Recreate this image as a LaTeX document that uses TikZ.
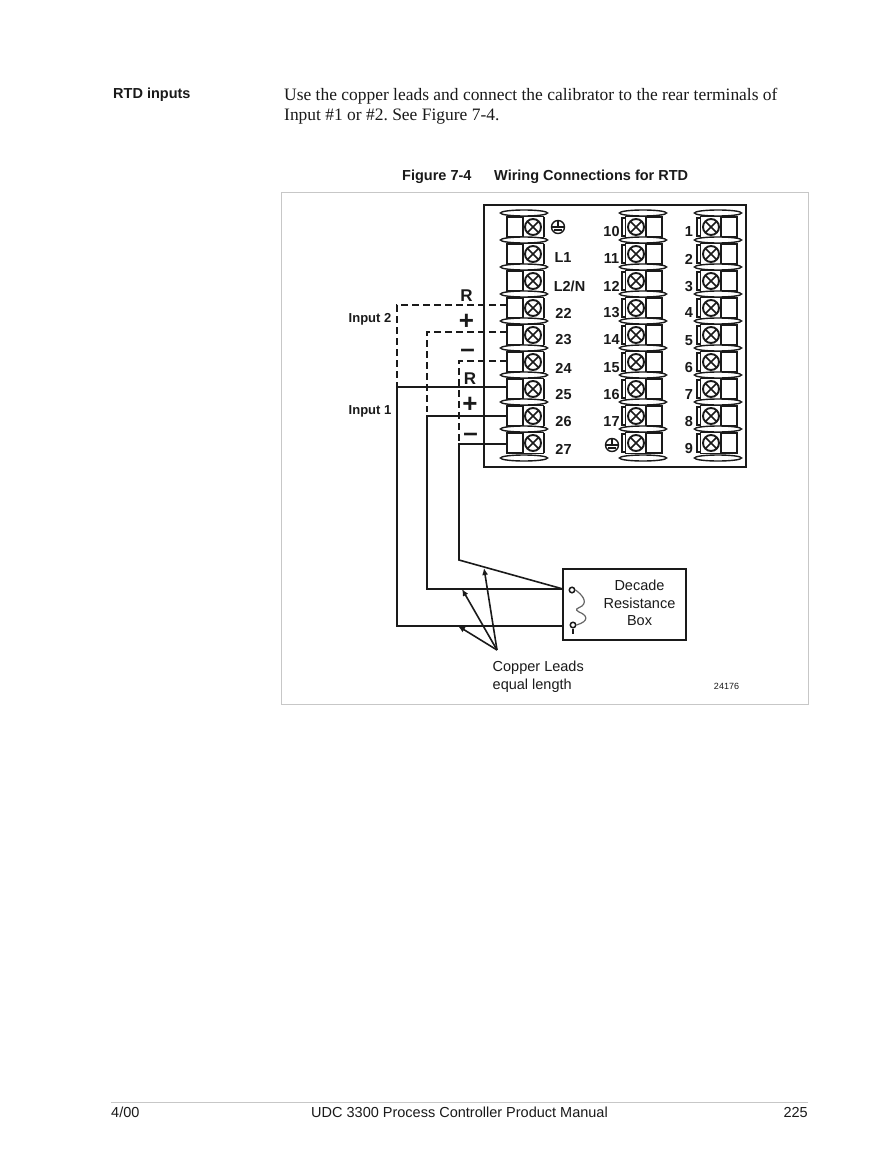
\documentclass[tikz,border=0pt]{standalone}
\usepackage{fontspec}
\setmainfont{Liberation Sans}
\newfontfamily\serifbody{Liberation Serif}
\usetikzlibrary{arrows.meta,shapes.geometric}
\definecolor{ink}{HTML}{1A1A1A}
\tikzset{
  x=1pt,y=-1pt,
  wire/.style={draw=ink,line width=1.6pt},
  dashwire/.style={draw=ink,line width=1.6pt,dash pattern=on 7pt off 4pt},
  pointer/.style={draw=ink,line width=1.6pt,-{Latex[length=7pt,width=6pt]}},
  termsq/.style={draw=ink,line width=1.1pt,fill=white,minimum width=16pt,minimum height=20pt,inner sep=0pt,outer sep=0pt},
  termblock/.style={draw=ink,line width=1.1pt,fill=white,minimum width=21pt,minimum height=21pt,inner sep=0pt,outer sep=0pt},
  screw/.style={circle,draw=ink,line width=1.9pt,fill=white,minimum size=16pt,inner sep=0pt,outer sep=0pt},
  washer/.style={ellipse,draw=ink,line width=1.4pt,fill=white,minimum width=47pt,minimum height=6pt,inner sep=0pt,outer sep=0pt},
  tlabel/.style={font=\bfseries\fontsize{14.5}{16}\selectfont,text=ink,inner sep=0pt},
  slabel/.style={font=\bfseries\fontsize{13}{15}\selectfont,text=ink,inner sep=0pt},
  signlabel/.style={font=\bfseries\fontsize{17}{19}\selectfont,text=ink,inner sep=0pt},
  signbig/.style={font=\bfseries\fontsize{26}{28}\selectfont,text=ink,inner sep=0pt},
  boxlabel/.style={font=\fontsize{14.5}{17.5}\selectfont,text=ink,inner sep=0pt,align=center},
  body/.style={font=\serifbody\fontsize{17.45}{19.6}\selectfont\frenchspacing,text=ink,inner sep=0pt,anchor=north west,align=left},
  foot/.style={font=\fontsize{14.5}{17}\selectfont,text=ink,inner sep=0pt},
  headtext/.style={font=\bfseries\fontsize{14.5}{17}\selectfont,text=ink,inner sep=0pt,anchor=west},
}
\newcommand{\screwcross}[1]{%
  \draw[ink,line width=1.7pt] (#1.45) -- (#1.225) (#1.135) -- (#1.315);}
\newcommand{\leftterm}[3]{% name, row y, dx
  \node[termblock] at (533+#3,#2) {};
  \node[termsq] (t#1) at (515+#3,#2) {};
  \node[screw] (s#1) at (533+#3,#2) {};
  \screwcross{s#1}
  \draw[ink,line width=1.3pt] (544+#3,#2-10) -- (544+#3,#2+10);
}
\newcommand{\rightterm}[3]{% name, row y, screw x
  \node[termblock] at (#3,#2) {};
  \node[termsq] (t#1) at (#3+18,#2) {};
  \node[screw] (s#1) at (#3,#2) {};
  \screwcross{s#1}
  \draw[ink,line width=1.2pt] (#3-14,#2-9) rectangle (#3-10.5,#2+9);
}
\newcommand{\groundmark}[2]{%
  \draw[ink,line width=1.4pt] (#1,#2) circle (6.5pt);
  \draw[ink,line width=1.6pt] (#1-6.5,#2) -- (#1+6.5,#2) (#1,#2-6) -- (#1,#2) (#1-4,#2+3) -- (#1+4,#2+3);}
\begin{document}
\begin{tikzpicture}
\useasboundingbox (0,0) rectangle (892,1155);
\fill[white] (0,0) rectangle (892,1155);

\node[headtext] (head) at (113,94.5) {RTD inputs};
\node[body] (para) at (284,88.5) {Use the copper leads and connect the calibrator to the rear terminals of\\Input \#1 or \#2. See Figure 7-4.};
\node[headtext] (figcap) at (402,176.5) {Figure 7-4};
\node[headtext] (figtitle) at (494,176.5) {Wiring Connections for RTD};

\draw[draw=black!22,line width=1pt] (281,192.5) rectangle (808.5,704);
\draw[ink,line width=1.8pt] (484,205) rectangle (746,467);

\coordinate (c1) at (397,305);
\coordinate (c1b) at (397,387);
\coordinate (c2) at (427,332);
\coordinate (c2b) at (427,412);
\coordinate (c3) at (459,361);
\coordinate (c3b) at (459,444);

% terminals
\foreach \n/\y in {A/227,B/254,C/281,22/308,23/335,24/362,25/389,26/416,27/443}{\leftterm{\n}{\y}{0}}
\foreach \n/\y in {10/227,11/254,12/281,13/308,14/335,15/362,16/389,17/416,G/443}{\rightterm{\n}{\y}{636}}
\foreach \n/\y in {1/227,2/254,3/281,4/308,5/335,6/362,7/389,8/416,9/443}{\rightterm{\n}{\y}{711}}
\foreach \cx/\px in {524/a,643/b,718/c}{
  \foreach \y in {213,240,267,294,321,348,375,402,429,458}{
    \node[washer] at (\cx,\y) {};
  }
}

% labels
\groundmark{558}{227}
\groundmark{612}{445}
\node[tlabel] (lL1) at (563,258) {L1};
\node[tlabel] (lL2) at (569.5,286) {L2/N};
\foreach \t/\y in {22/313,23/340,24/368,25/395,26/422,27/449}{\node[tlabel] (l\t) at (563.5,\y) {\t};}
\foreach \t/\y in {10/232,11/259,12/286,13/313,14/340,15/368,16/395,17/422}{\node[tlabel] (l\t) at (611.5,\y) {\t};}
\foreach \t/\y in {1/232,2/259,3/287,4/313,5/341,6/368,7/395,8/422,9/449}{\node[tlabel] (l\t) at (689,\y) {\t};}

\node[signlabel] (r2) at (466.5,295.5) {R};
\node[signbig] (p2) at (466.5,322) {+};
\node[signbig] (m2) at (467.5,353) {\textendash};
\node[signlabel] (r1) at (470,378.5) {R};
\node[signbig] (p1) at (470,405) {+};
\node[signbig] (m1) at (470.5,437) {\textendash};
\node[slabel,anchor=west] (in2) at (348.5,319) {Input 2};
\node[slabel,anchor=west] (in1) at (348.5,411) {Input 1};

% decade box
\node[draw=ink,line width=1.6pt,fill=white,minimum width=123pt,minimum height=71pt,inner sep=0pt,outer sep=0pt] (box) at (624.5,604.5) {};
\node[boxlabel] (boxt) at (639.5,603) {Decade\\Resistance\\Box};
\node[circle,draw=ink,line width=1.5pt,fill=white,minimum size=5.5pt,inner sep=0pt] (p1c) at (572,590) {};
\node[circle,draw=ink,line width=1.5pt,fill=white,minimum size=5.5pt,inner sep=0pt] (p2c) at (573,625) {};
\coordinate (tail) at (573,634);
\draw[ink,line width=1.4pt] (p2c.south) -- (tail);
\draw[black!60,line width=1.2pt] (p1c.east) .. controls (581,594) and (588,601) .. (582,606) .. controls (577,609) and (574,609) .. (579,612) .. controls (587,615) and (590,621) .. (p2c.east);

% connectors
\coordinate (j1) at (397,626);
\coordinate (j2) at (427,589);
\coordinate (j3) at (459,560);
\coordinate (b3) at (563,589);
\coordinate (b2) at (563,589);
\coordinate (b1) at (563,626);
\draw[dashwire] (t22.west |- c1) -- (c1) -- (c1b);
\draw[dashwire] (t23.west |- c2) -- (c2) -- (c2b);
\draw[dashwire] (t24.west |- c3) -- (c3) -- (c3b);
\draw[wire] (t25.west |- c1b) -- (c1b) -- (j1) -- (b1);
\draw[wire] (t26.west) -- (427,416) -- (j2) -- (b2);
\draw[wire] (t27.west |- c3b) -- (c3b) -- (j3) -- (b3);

% leads label
\node[boxlabel,align=left,anchor=north west] (lead) at (492.5,660.5) {Copper Leads\\[0.5pt]equal length};
\coordinate (fan) at (497,650);
\coordinate (a3) at (484,568);
\coordinate (a2) at (462,589);
\coordinate (a1) at (458,626);
\draw[pointer] (fan) -- (a3);
\draw[pointer] (fan) -- (a2);
\draw[pointer] (fan) -- (a1);
\node[font=\fontsize{9}{11}\selectfont,text=ink,inner sep=0pt] (num) at (726.5,686) {24176};

% footer
\draw[black!22,line width=.8pt] (111,1102) -- (808,1102);
\node[foot,anchor=west] (f1) at (111,1112.5) {4/00};
\node[foot] (f2) at (459.5,1112.5) {UDC 3300 Process Controller Product Manual};
\node[foot,anchor=east] (f3) at (808,1112.5) {225};
\end{tikzpicture}
\end{document}
